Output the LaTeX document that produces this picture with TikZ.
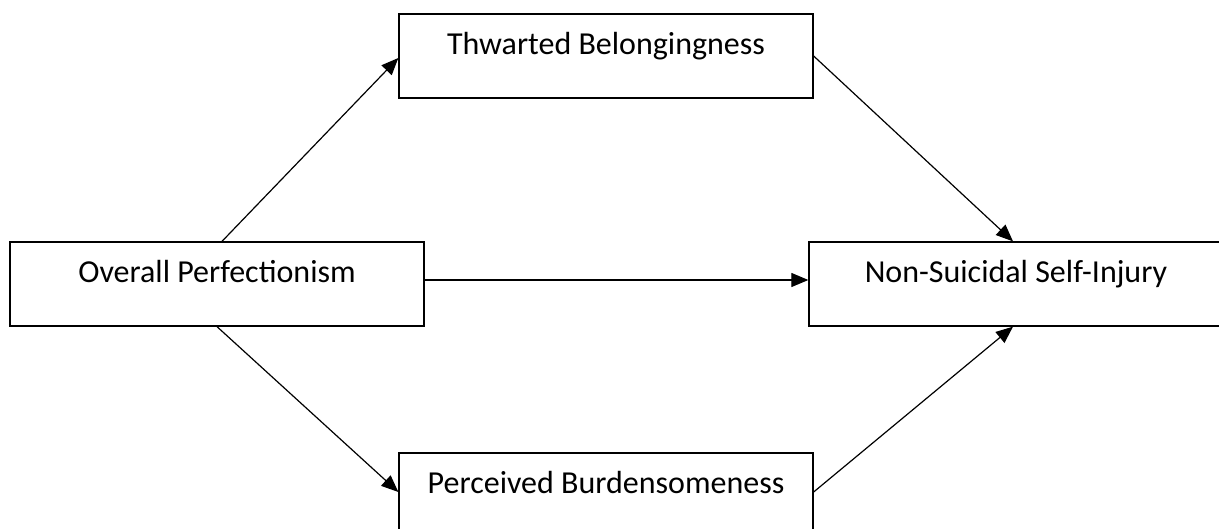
\documentclass[tikz,border=0pt]{standalone}
\usepackage{fontspec}
\setmainfont{Carlito}
\usetikzlibrary{arrows.meta}
\begin{document}
\begin{tikzpicture}[x=1pt,y=1pt,
  box/.style={draw, line width=1.3pt, minimum width=414pt, minimum height=84pt, inner sep=0pt},
  lbl/.style={anchor=base, inner sep=0pt, font=\fontsize{32}{38}\selectfont},
  conn/.style={line width=1.2pt, -{Triangle[length=17pt,width=14pt]}}]
\useasboundingbox (0,0) rectangle (1219,-529);
\fill[white] (0,0) rectangle (1219,-529);
\node[box] (op) at (217,-284) {};
\node[box] (tb) at (606,-56) {};
\node[box] (pb) at (606,-495) {};
\node[box] (ns) at (1016,-284) {};
\node[lbl] (opt) at ([yshift=-41.5pt]op.north) {Overall Perfectionism};
\node[lbl] (tbt) at ([yshift=-41.5pt]tb.north) {Thwarted Belongingness};
\node[lbl] (pbt) at ([yshift=-41.5pt]pb.north) {Perceived Burdensomeness};
\node[lbl] (nst) at ([yshift=-41.5pt]ns.north) {Non-Suicidal Self-Injury};
\draw[conn] ([xshift=5pt]op.north) -- ([yshift=-2pt]tb.west);
\draw[conn] (op.south) -- ([yshift=3pt]pb.west);
\draw[conn] ([yshift=4pt]op.east) -- ([yshift=4pt]ns.west);
\draw[conn] (tb.east) -- ([xshift=-3pt]ns.north);
\draw[conn] ([yshift=3pt]pb.east) -- ([xshift=-3pt]ns.south);
\end{tikzpicture}
\end{document}
